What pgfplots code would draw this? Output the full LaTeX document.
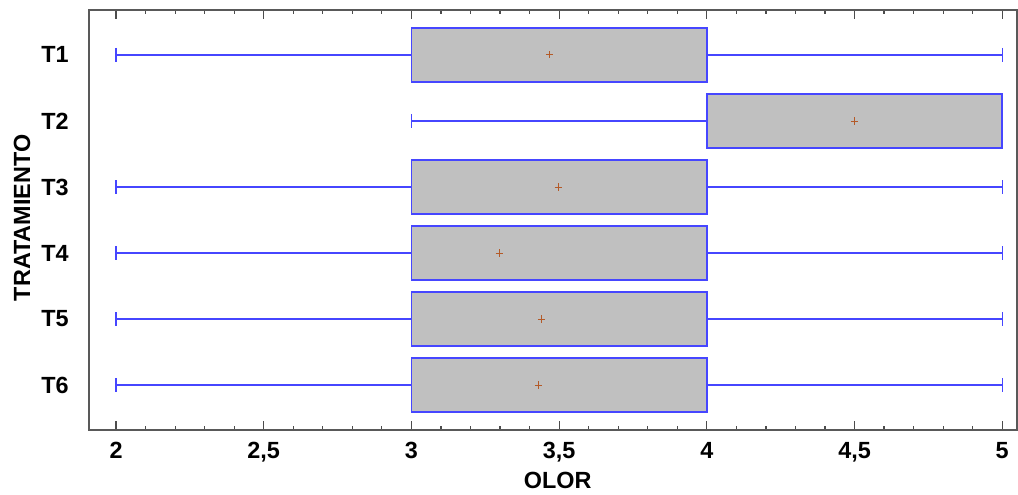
\documentclass[border=0pt]{standalone}
\usepackage{pgfplots}
\pgfplotsset{compat=1.18}
\usepgfplotslibrary{statistics}
\usepackage{fontspec}
\setmainfont{Liberation Sans}
\definecolor{boxblue}{RGB}{70,70,255}
\definecolor{boxgray}{RGB}{192,192,192}
\definecolor{meancol}{RGB}{180,90,40}
\begin{document}
\begin{tikzpicture}
\begin{axis}[name=ax, scale only axis, width=464pt, height=210pt,
  xmin=1.9085, xmax=5.05, ymin=0.32, ymax=6.68, y dir=reverse,
  xtick={2,2.5,3,3.5,4,4.5,5}, minor x tick num=4,
  ytick={1,2,3,4,5,6}, yticklabels={T1,T2,T3,T4,T5,T6},
  tick align=inside, major tick length=4.5pt, minor tick length=2.2pt,
  y tick style={draw=none},
  x tick style={black!70, line width=0.6pt},
  /pgf/number format/use comma, /pgf/number format/assume math mode=true,
  tick label style={font=\fontsize{11.7}{14}\selectfont\bfseries},
  label style={font=\fontsize{11.7}{14}\selectfont\bfseries},
  xticklabel style={yshift=-2.6pt},
  yticklabel style={xshift=-6.6pt},
  xlabel={OLOR}, ylabel={TRATAMIENTO},
  xlabel style={at={(axis description cs:0.505,-0.119)}, anchor=center},
  ylabel style={at={(axis description cs:-0.0722,0.505)}, anchor=center, rotate=0},
  axis line style={black!65, line width=0.8pt},
  boxplot/box extend=0.82, boxplot/whisker extend=0.21,
  boxplot/every box/.style={draw=boxblue, fill=boxgray, line width=0.9pt, solid},
  boxplot/every whisker/.style={draw=boxblue, line width=0.7pt, solid},
  boxplot/every median/.style={draw=boxblue, line width=0.9pt, solid},
  boxplot/every average/.style={/tikz/mark=+, /tikz/mark size=1.8pt, /tikz/draw=meancol, /tikz/mark options={draw=meancol, line width=0.6pt, solid}},
]
\addplot[meancol, solid, mark=+, mark options={meancol}, boxplot prepared={lower whisker=2, lower quartile=3, median=3, upper quartile=4, upper whisker=5, average=3.467, draw position=1}] coordinates {};
\addplot[meancol, solid, mark=+, mark options={meancol}, boxplot prepared={lower whisker=3, lower quartile=4, median=5, upper quartile=5, upper whisker=5, average=4.5, draw position=2}] coordinates {};
\addplot[meancol, solid, mark=+, mark options={meancol}, boxplot prepared={lower whisker=2, lower quartile=3, median=3, upper quartile=4, upper whisker=5, average=3.497, draw position=3}] coordinates {};
\addplot[meancol, solid, mark=+, mark options={meancol}, boxplot prepared={lower whisker=2, lower quartile=3, median=3, upper quartile=4, upper whisker=5, average=3.297, draw position=4}] coordinates {};
\addplot[meancol, solid, mark=+, mark options={meancol}, boxplot prepared={lower whisker=2, lower quartile=3, median=3, upper quartile=4, upper whisker=5, average=3.44, draw position=5}] coordinates {};
\addplot[meancol, solid, mark=+, mark options={meancol}, boxplot prepared={lower whisker=2, lower quartile=3, median=3, upper quartile=4, upper whisker=5, average=3.43, draw position=6}] coordinates {};
\end{axis}
\pgfresetboundingbox
\path ([xshift=-44.5pt,yshift=-32.5pt]ax.south west) rectangle ([xshift=0.5pt,yshift=5pt]ax.north east);
\end{tikzpicture}
\end{document}
